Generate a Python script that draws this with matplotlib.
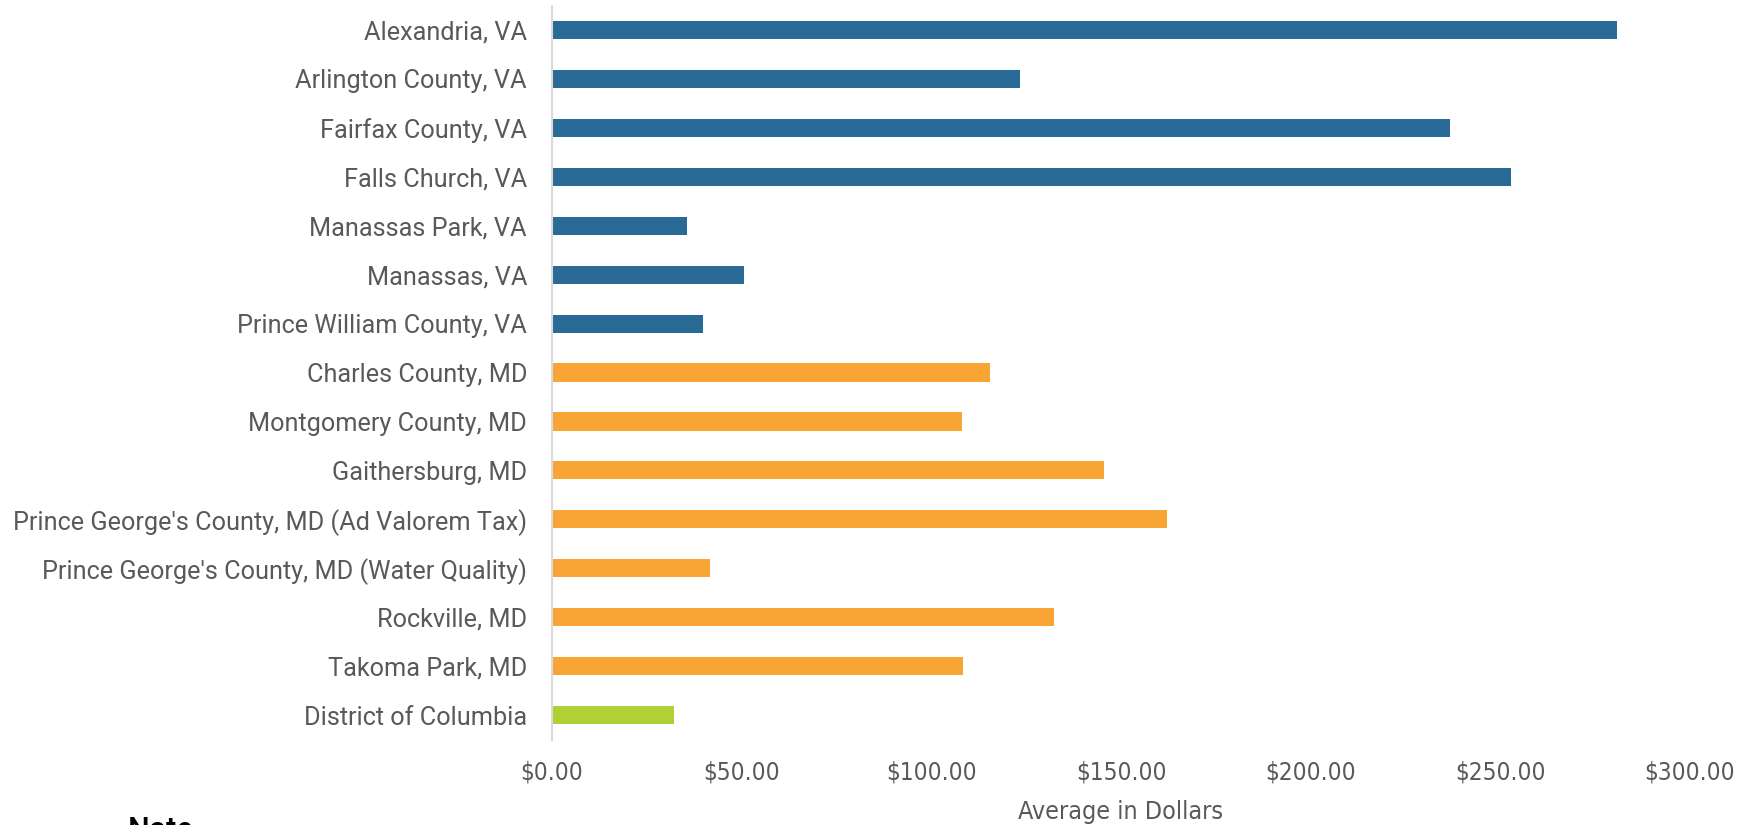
import matplotlib.pyplot as plt
from matplotlib.ticker import FuncFormatter

# data
places = ['Alexandria, VA', 'Arlington County, VA', 'Fairfax County, VA', 'Falls Church, VA',
          'Manassas Park, VA', 'Manassas, VA', 'Prince William County, VA',
          'Charles County, MD', 'Montgomery County, MD', 'Gaithersburg, MD',
          "Prince George's County, MD (Ad Valorem Tax)",
          "Prince George's County, MD (Water Quality)",
          'Rockville, MD', 'Takoma Park, MD', 'District of Columbia']
avg_dollars = [280.8, 123.3, 236.8, 252.8, 35.6, 50.6, 39.7,
               115.4, 108.0, 145.4, 162.2, 41.7, 132.2, 108.3, 32.2]
state = ['VA'] * 7 + ['MD'] * 7 + ['DC']
state_colors = {'VA': '#296a96', 'MD': '#f9a535', 'DC': '#afd136'}

fig = plt.figure(figsize=(17.52, 8.25), dpi=100)
ax = fig.add_axes([0.3151, 0.1036, 0.6495, 0.8897])

ypos = list(range(len(places)))
ax.barh(ypos, avg_dollars, height=0.37, color=[state_colors[s] for s in state])

ax.set_yticks(ypos)
ax.set_yticklabels(places, fontsize=18.2, color='#595959', family='Roboto')
ax.set_ylim(len(places) - 0.5, -0.5)
ax.set_xlim(0, 300)
ax.set_xticks([0, 50, 100, 150, 200, 250, 300])
ax.xaxis.set_major_formatter(FuncFormatter(lambda v, p: f'${v:.2f}'))
for lab in ax.get_xticklabels():
    lab.set_family('DejaVu Sans')
    lab.set_stretch('condensed')
    lab.set_fontsize(17.5)
    lab.set_color('#595959')
ax.tick_params(axis='both', length=0)
ax.tick_params(axis='x', pad=15)
ax.tick_params(axis='y', pad=18)

ax.set_xlabel('Average in Dollars', fontsize=18, color='#595959',
              family='DejaVu Sans', fontstretch='condensed', labelpad=11)

for s in ['top', 'right', 'bottom']:
    ax.spines[s].set_visible(False)
ax.spines['left'].set_color('#d9d9d9')
ax.spines['left'].set_linewidth(1.5)

# note line at the bottom, cut off by the figure edge as in the original
fig.text(128 / 1752, 1 - 816 / 825, 'Note', fontsize=22, color='black',
         va='top', ha='left', family='Roboto', fontweight='medium')

fig.savefig('out.png', dpi=100)
